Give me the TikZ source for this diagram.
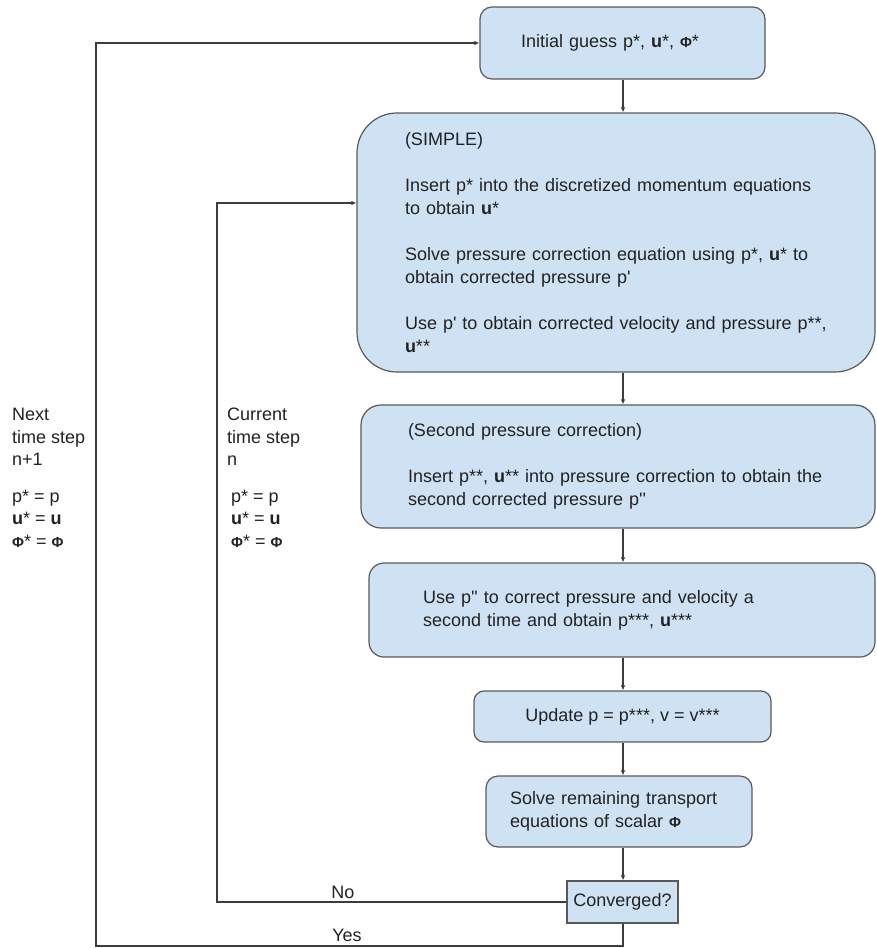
\documentclass[tikz,border=0pt]{standalone}
\usepackage{fontspec}
\setmainfont{Liberation Sans}
\usetikzlibrary{arrows.meta, calc}
\definecolor{boxfill}{HTML}{CFE2F3}
\definecolor{boxline}{HTML}{595959}
\definecolor{wire}{HTML}{3C3C3C}
\definecolor{ink}{HTML}{222222}
\newcommand{\phis}{{\fontsize{14.5}{14.5}\selectfont\bfseries Φ}}
\newcommand{\pr}{\textquotesingle}
\tikzset{
  stepbox/.style={draw=boxline, fill=boxfill, line width=1.2pt, rounded corners=#1, align=left, inner ysep=2pt},
  flow/.style={-{Latex[length=5pt, width=4.5pt]}, line width=1.1pt, color=wire},
  every node/.append style={font=\fontsize{18}{23}\selectfont, text=ink}
}

\begin{document}
\begin{tikzpicture}[x=1pt, y=-1pt]
\useasboundingbox (0,0) rectangle (876,948);
\coordinate (spine) at (623,0);
% boxes
\node[stepbox=12pt, minimum width=285pt, minimum height=72pt, text width=203pt, inner xsep=41pt] (init) at (622.5,43) {Initial guess p*, \textbf{u}*, \phis*};
\node[stepbox=40pt, minimum width=518pt, minimum height=259pt, text width=422pt, inner xsep=48pt] (simple) at (616,242.5) {(SIMPLE)\\[23pt]
Insert p* into the discretized momentum equations\\
to obtain \textbf{u}*\\[23pt]
Solve pressure correction equation using p*, \textbf{u}* to\\
obtain corrected pressure p\pr\\[23pt]
Use p\pr{} to obtain corrected velocity and pressure p**,\\
\textbf{u}**};
\node[stepbox=20pt, minimum width=514pt, minimum height=123pt, text width=420pt, inner xsep=47pt] (second) at (618,466.5) {(Second pressure correction)\\[23pt]
Insert p**, \textbf{u}** into pressure correction to obtain the\\
second corrected pressure p\pr\pr};
\node[stepbox=15pt, minimum width=506pt, minimum height=94pt, text width=398pt, inner xsep=54pt] (third) at (622,610) {Use p\pr\pr{} to correct pressure and velocity a\\
second time and obtain p***, \textbf{u}***};
\node[stepbox=10pt, minimum width=297pt, minimum height=51pt, align=center] (update) at (622.5,716.5) {Update p = p***, v = v***};
\node[stepbox=12pt, minimum width=266pt, minimum height=71pt, text width=218pt, inner xsep=24pt] (solve) at (619,811.5) {Solve remaining transport\\
equations of scalar \phis};
\node[stepbox=0pt, minimum width=111pt, minimum height=42pt, inner xsep=3pt] (conv) at (622.5,902) {Converged?};
% side notes
\node[anchor=north west, inner sep=0pt, align=left, font=\fontsize{18}{22.5}\selectfont] (nextstep) at (12,408) {Next\\time step\\n+1\\[14pt]p* = p\\\textbf{u}* = \textbf{u}\\\phis* = \phis};
\node[anchor=north west, inner sep=0pt, align=left, font=\fontsize{18}{22.5}\selectfont] (curstep) at (227,408) {Current\\time step\\n\\[14pt]\hspace*{4pt}p* = p\\\hspace*{4pt}\textbf{u}* = \textbf{u}\\\hspace*{4pt}\phis* = \phis};
\node (nolabel) at (343,892) {No};
\node (yeslabel) at (347,935) {Yes};
% main chain
\draw[flow] (init.south -| spine) -- (simple.north -| spine);
\draw[flow] (simple.south -| spine) -- (second.north -| spine);
\draw[flow] (second.south -| spine) -- (third.north -| spine);
\draw[flow] (third.south -| spine) -- (update.north -| spine);
\draw[flow] (update.south -| spine) -- (solve.north -| spine);
\draw[flow] (solve.south -| spine) -- (conv.north -| spine);
% loops back
\coordinate (nobend) at (217,203);
\coordinate (yesbend) at (96,946);
\draw[flow] (conv.west) -| (nobend) -- (nobend -| simple.west);
\draw[flow] (conv.south -| spine) |- (yesbend) |- (init.west);
\end{tikzpicture}
\end{document}
